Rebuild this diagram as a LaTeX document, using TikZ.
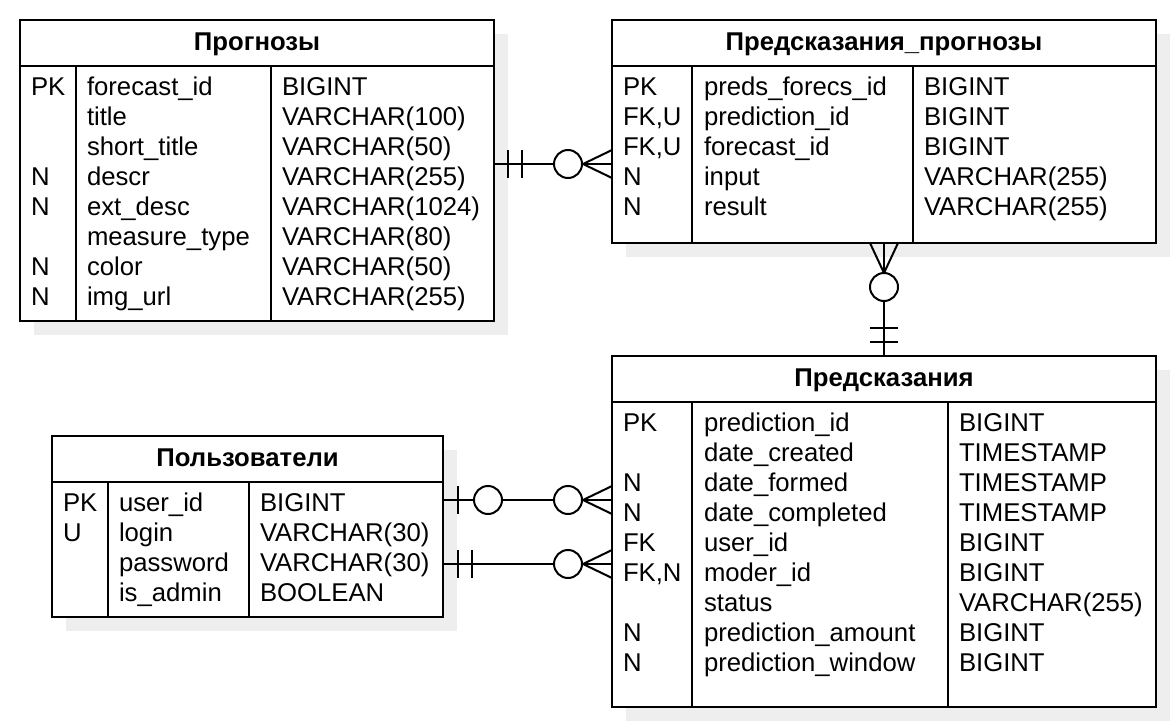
\documentclass[tikz,border=0pt]{standalone}
\usepackage{fontspec}
\setmainfont{Liberation Sans}
\usetikzlibrary{calc}
\definecolor{shadowgray}{HTML}{EEEEEE}
\begin{document}
\begin{tikzpicture}[x=1pt,y=-1pt,line width=2pt,
  tbl/.style={draw,line width=2pt,fill=white,inner sep=0pt},
  shadowbox/.style={fill=shadowgray,draw=none},
  cell/.style={anchor=base west,inner sep=0pt,font=\fontsize{25.7}{30}\selectfont},
  hdr/.style={anchor=base,inner sep=0pt,font=\fontsize{25.7}{30}\selectfont\bfseries},
  sep/.style={line width=2pt},
  ring/.style={draw,fill=white,line width=2pt}]
\useasboundingbox (0,0) rectangle (1176,728);

% shadows
\fill[shadowgray] (34,34) rectangle (508,335);
\fill[shadowgray] (626,34) rectangle (1170,257);
\fill[shadowgray] (66,450) rectangle (457,631);
\fill[shadowgray] (626,370) rectangle (1170,721);

% connector reference coordinates
\coordinate (r1) at (0,164);
\coordinate (r3) at (0,500);
\coordinate (r4) at (0,564);

% ---------- Table 1: Прогнозы ----------
\node[tbl,minimum width=474pt,minimum height=301pt] (t1) at (257,170.5) {};
\draw[sep] (20,66) -- (494,66);
\draw[sep] (76,66) -- (76,321);
\draw[sep] (271,66) -- (271,321);
\node[hdr] (t1h) at (257,50) {Прогнозы};
\foreach \a [count=\i from 0] in {PK,,,N,N,,N,N}
  \node[cell] (t1a\i) at (30,95+30*\i) {\a};
\foreach \a [count=\i from 0] in {forecast\_id,title,short\_title,descr,ext\_desc,measure\_type,color,img\_url}
  \node[cell] (t1b\i) at (86,95+30*\i) {\a};
\foreach \a [count=\i from 0] in {BIGINT,VARCHAR(100),VARCHAR(50),VARCHAR(255),VARCHAR(1024),VARCHAR(80),VARCHAR(50),VARCHAR(255)}
  \node[cell] (t1c\i) at (281,95+30*\i) {\a};

% ---------- Table 2: Предсказания_прогнозы ----------
\node[tbl,minimum width=544pt,minimum height=223pt] (t2) at (884,131.5) {};
\draw[sep] (612,66) -- (1156,66);
\draw[sep] (692,66) -- (692,243);
\draw[sep] (913,66) -- (913,243);
\node[hdr] (t2h) at (884,50) {Предсказания\_прогнозы};
\foreach \a [count=\i from 0] in {PK,{FK,U},{FK,U},N,N}
  \node[cell] (t2a\i) at (622,95+30*\i) {\a};
\foreach \a [count=\i from 0] in {preds\_forecs\_id,prediction\_id,forecast\_id,input,result}
  \node[cell] (t2b\i) at (703,95+30*\i) {\a};
\foreach \a [count=\i from 0] in {BIGINT,BIGINT,BIGINT,VARCHAR(255),VARCHAR(255)}
  \node[cell] (t2c\i) at (923,95+30*\i) {\a};

% ---------- Table 3: Пользователи ----------
\node[tbl,minimum width=391pt,minimum height=181pt] (t3) at (247.5,526.5) {};
\draw[sep] (52,482) -- (443,482);
\draw[sep] (108,482) -- (108,617);
\draw[sep] (249,482) -- (249,617);
\node[hdr] (t3h) at (247.5,466) {Пользователи};
\foreach \a [count=\i from 0] in {PK,U,,}
  \node[cell] (t3a\i) at (62,511+30*\i) {\a};
\foreach \a [count=\i from 0] in {user\_id,login,password,is\_admin}
  \node[cell] (t3b\i) at (118,511+30*\i) {\a};
\foreach \a [count=\i from 0] in {BIGINT,VARCHAR(30),VARCHAR(30),BOOLEAN}
  \node[cell] (t3c\i) at (259,511+30*\i) {\a};

% ---------- Table 4: Предсказания ----------
\node[tbl,minimum width=544pt,minimum height=351pt] (t4) at (884,531.5) {};
\draw[sep] (612,402) -- (1156,402);
\draw[sep] (692,402) -- (692,707);
\draw[sep] (948,402) -- (948,707);
\node[hdr] (t4h) at (884,386) {Предсказания};
\foreach \a [count=\i from 0] in {PK,,N,N,FK,{FK,N},,N,N}
  \node[cell] (t4a\i) at (622,431+30*\i) {\a};
\foreach \a [count=\i from 0] in {prediction\_id,date\_created,date\_formed,date\_completed,user\_id,moder\_id,status,prediction\_amount,prediction\_window}
  \node[cell] (t4b\i) at (703,431+30*\i) {\a};
\foreach \a [count=\i from 0] in {BIGINT,TIMESTAMP,TIMESTAMP,TIMESTAMP,BIGINT,BIGINT,VARCHAR(255),BIGINT,BIGINT}
  \node[cell] (t4c\i) at (958,431+30*\i) {\a};

% ---------- Connector 1: Прогнозы -> Предсказания_прогнозы ----------
\draw (t1.east |- r1) -- (t2.west |- r1);
\draw (508,150) -- (508,178);
\draw (522,150) -- (522,178);
\draw[ring] (568,164) circle (14);
\draw (583,164) -- (612,150);
\draw (583,164) -- (612,178);

% ---------- Connector 2: Предсказания_прогнозы -> Предсказания ----------
\draw (t2.south) -- (t4.north);
\draw (884,273) -- (870,243);
\draw (884,273) -- (898,243);
\draw[ring] (884,287) circle (14);
\draw (870,328) -- (898,328);
\draw (870,342) -- (898,342);

% ---------- Connector 3: Пользователи -> Предсказания (0..1) ----------
\draw (t3.east |- r3) -- (t4.west |- r3);
\draw (458,486) -- (458,514);
\draw[ring] (488,500) circle (14);
\draw[ring] (568,500) circle (14);
\draw (583,500) -- (612,486);
\draw (583,500) -- (612,514);

% ---------- Connector 4: Пользователи -> Предсказания (1) ----------
\draw (t3.east |- r4) -- (t4.west |- r4);
\draw (458,550) -- (458,578);
\draw (472,550) -- (472,578);
\draw[ring] (568,564) circle (14);
\draw (583,564) -- (612,550);
\draw (583,564) -- (612,578);
\end{tikzpicture}
\end{document}
